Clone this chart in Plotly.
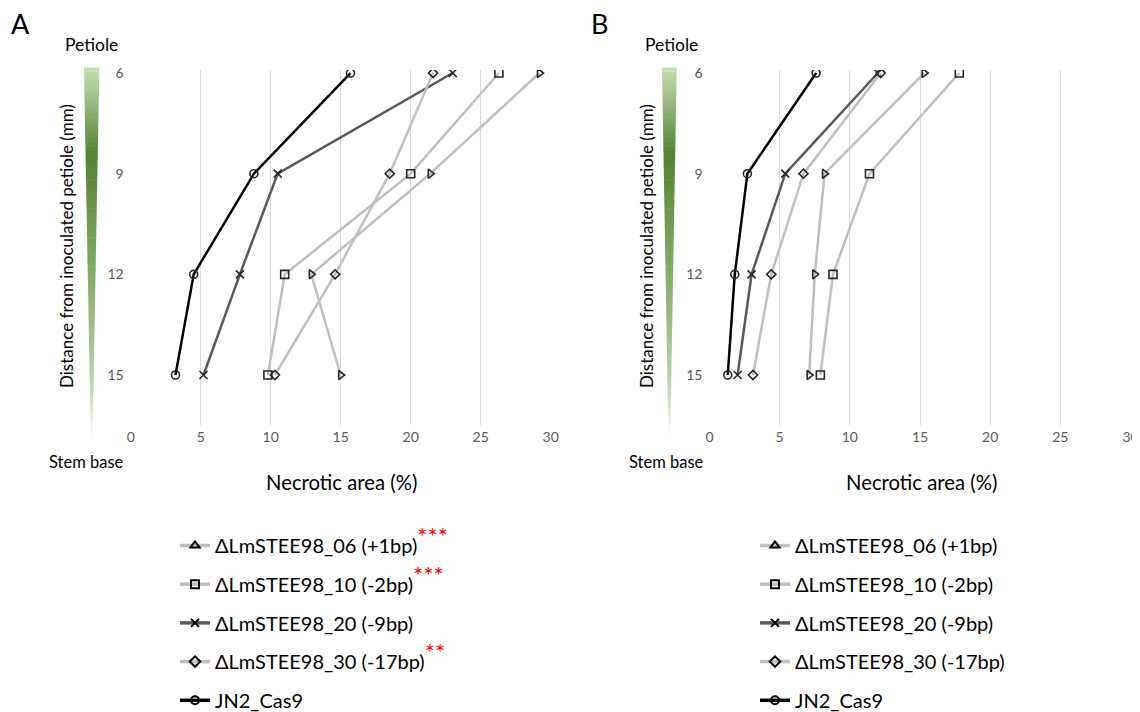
import plotly.graph_objects as go

# the page is shown with an 8 px body margin; positions below are window pixels
OFF = 8
W, H = 1140, 712
H_MAP = 702  # empirical vertical mapping of window pixels to paper fractions

# ---------------- data ----------------
distance = [6, 9, 12, 15]

series_names = ["ΔLmSTEE98_06 (+1bp)", "ΔLmSTEE98_10 (-2bp)", "ΔLmSTEE98_20 (-9bp)",
                "ΔLmSTEE98_30 (-17bp)", "JN2_Cas9"]
stars_A = ["***", "***", "", "**", ""]

# Panel A necrotic area (%)
a_06 = [29.2, 21.4, 12.9, 15.0]
a_10 = [26.3, 20.0, 11.0, 9.8]
a_20 = [23.0, 10.5, 7.8, 5.2]
a_30 = [21.6, 18.5, 14.6, 10.3]
a_jn2 = [15.7, 8.8, 4.5, 3.2]

# Panel B necrotic area (%)
b_06 = [15.3, 8.2, 7.5, 7.1]
b_10 = [17.8, 11.4, 8.8, 7.9]
b_20 = [12.0, 5.4, 3.0, 2.0]
b_30 = [12.2, 6.7, 4.4, 3.1]
b_jn2 = [7.6, 2.7, 1.8, 1.3]

x_ticks = [0, 5, 10, 15, 20, 25, 30]

# ---------------- styles ----------------
line_colors = ["#bfbfbf", "#bfbfbf", "#595959", "#bfbfbf", "#000000"]
plot_symbols = ["triangle-right-open", "square-open", "x-thin-open", "diamond-open", "circle-open"]
legend_symbols = ["triangle-up-open", "square-open", "x-thin-open", "diamond-open", "circle-open"]
marker_sizes = [8, 8, 8, 7, 8]
FONT = "Lato, 'Open Sans', sans-serif"


def px(x):
    return (x - OFF) / W


def py(y):
    return 1 - (y - OFF) / H_MAP


fig = go.Figure()

panels = [
    ("x", "y", [a_06, a_10, a_20, a_30, a_jn2], "legend", stars_A),
    ("x2", "y2", [b_06, b_10, b_20, b_30, b_jn2], "legend2", ["", "", "", "", ""]),
]

for xa, ya, data, leg, stars in panels:
    for i, vals in enumerate(data):
        fig.add_trace(go.Scatter(
            x=vals, y=distance, xaxis=xa, yaxis=ya, mode="lines+markers",
            line=dict(color=line_colors[i], width=2.5),
            marker=dict(symbol=plot_symbols[i], size=marker_sizes[i], color="#262626",
                        line=dict(color="#262626", width=1.6)),
            showlegend=False, hoverinfo="x+y"))
    for i, name in enumerate(series_names):
        label = name
        if stars[i]:
            label += "<sup><span style='color:#ff0000;font-size:24px'>" + stars[i] + "</span></sup>"
        fig.add_trace(go.Scatter(
            x=[None], y=[None], xaxis=xa, yaxis=ya, mode="lines+markers", name=label,
            legend=leg, legendgroup=leg + str(i),
            line=dict(color=line_colors[i], width=3.5),
            marker=dict(symbol=legend_symbols[i], size=8, color="#000000",
                        line=dict(color="#000000", width=2)),
            showlegend=True))

# axes
x_dom_A = [px(130.7), px(550.7)]
x_dom_B = [px(709.5), px(1130.5)]
y_dom = [py(425), py(70)]
yrange = [16.49, 5.91]

common_x = dict(range=[0, 30], tickvals=x_ticks, showgrid=True, gridcolor="#d9d9d9", gridwidth=1.3,
                zeroline=False, showline=False, ticks="", tickfont=dict(size=14, color="#595959", family=FONT),
                ticklabelstandoff=2, automargin=False, fixedrange=True)
common_y = dict(range=yrange, tickvals=distance, showgrid=False, zeroline=False, showline=False, ticks="",
                tickfont=dict(size=14, color="#595959", family=FONT), ticklabelstandoff=6,
                automargin=False, fixedrange=True)

fig.update_layout(
    xaxis=dict(domain=x_dom_A, anchor="y", **common_x),
    yaxis=dict(domain=y_dom, anchor="x", **common_y),
    xaxis2=dict(domain=x_dom_B, anchor="y2", **common_x),
    yaxis2=dict(domain=y_dom, anchor="x2", **common_y),
)

# gradient wedges (decorative stem indicator)
stops = [(0.0, (198, 224, 180)), (0.23, (84, 130, 53)), (0.55, (130, 172, 105)),
         (0.85, (185, 212, 170)), (1.0, (255, 255, 255))]


def col_at(t):
    for (t0, c0), (t1, c1) in zip(stops[:-1], stops[1:]):
        if t0 <= t <= t1:
            f = (t - t0) / (t1 - t0) if t1 > t0 else 0
            return "rgb(%d,%d,%d)" % tuple(round(a + (b - a) * f) for a, b in zip(c0, c1))
    return "rgb(255,255,255)"


shapes = []
N = 90
for left, right in [(84, 99.3), (662, 676.7)]:
    top, bot = 67.5, 440
    tip = (left + right) / 2
    for k in range(N):
        t0, t1 = k / N, (k + 1) / N
        y0, y1 = top + (bot - top) * t0, top + (bot - top) * t1 + 0.6
        l0 = left + (tip - 0.8 - left) * t0
        r0 = right + (tip + 0.8 - right) * t0
        l1 = left + (tip - 0.8 - left) * t1
        r1 = right + (tip + 0.8 - right) * t1
        path = "M %f %f L %f %f L %f %f L %f %f Z" % (px(l0), py(y0), px(r0), py(y0),
                                                       px(r1), py(y1), px(l1), py(y1))
        shapes.append(dict(type="path", xref="paper", yref="paper", path=path,
                           fillcolor=col_at((t0 + t1) / 2), line=dict(width=0), layer="below"))

annotations = []
for dx, letter in [(0, "A"), (580, "B")]:
    annotations += [
        dict(text=letter, x=px(9 + dx), y=py(23), xanchor="left", yanchor="middle",
             font=dict(size=27, color="#000000", family=FONT)),
        dict(text="Petiole", x=px(91.5 + dx), y=py(45), xanchor="center", yanchor="middle",
             font=dict(size=17.5, color="#000000", family=FONT)),
        dict(text="Stem base", x=px(86 + dx), y=py(462), xanchor="center", yanchor="middle",
             font=dict(size=16.5, color="#000000", family=FONT)),
        dict(text="Necrotic area (%)", x=px(341 + dx), y=py(482), xanchor="center", yanchor="middle",
             font=dict(size=20.3, color="#000000", family=FONT)),
        dict(text="Distance from inoculated petiole (mm)", x=px(66 + dx), y=py(246), textangle=-90,
             xanchor="center", yanchor="middle", font=dict(size=17, color="#000000", family=FONT)),
    ]
for a in annotations:
    a.update(xref="paper", yref="paper", showarrow=False)

leg_common = dict(yanchor="top", xanchor="left", traceorder="grouped", tracegroupgap=9.7,
                  font=dict(size=20, color="#000000", family=FONT), bgcolor="rgba(0,0,0,0)",
                  borderwidth=0, itemwidth=30)

fig.update_layout(
    width=W, height=H, margin=dict(l=0, r=0, t=0, b=0),
    paper_bgcolor="white", plot_bgcolor="white",
    font=dict(family=FONT),
    shapes=shapes, annotations=annotations,
    legend=dict(x=px(175), y=py(526), **leg_common),
    legend2=dict(x=px(755), y=py(526), **leg_common),
)

fig.write_html("out.html")
